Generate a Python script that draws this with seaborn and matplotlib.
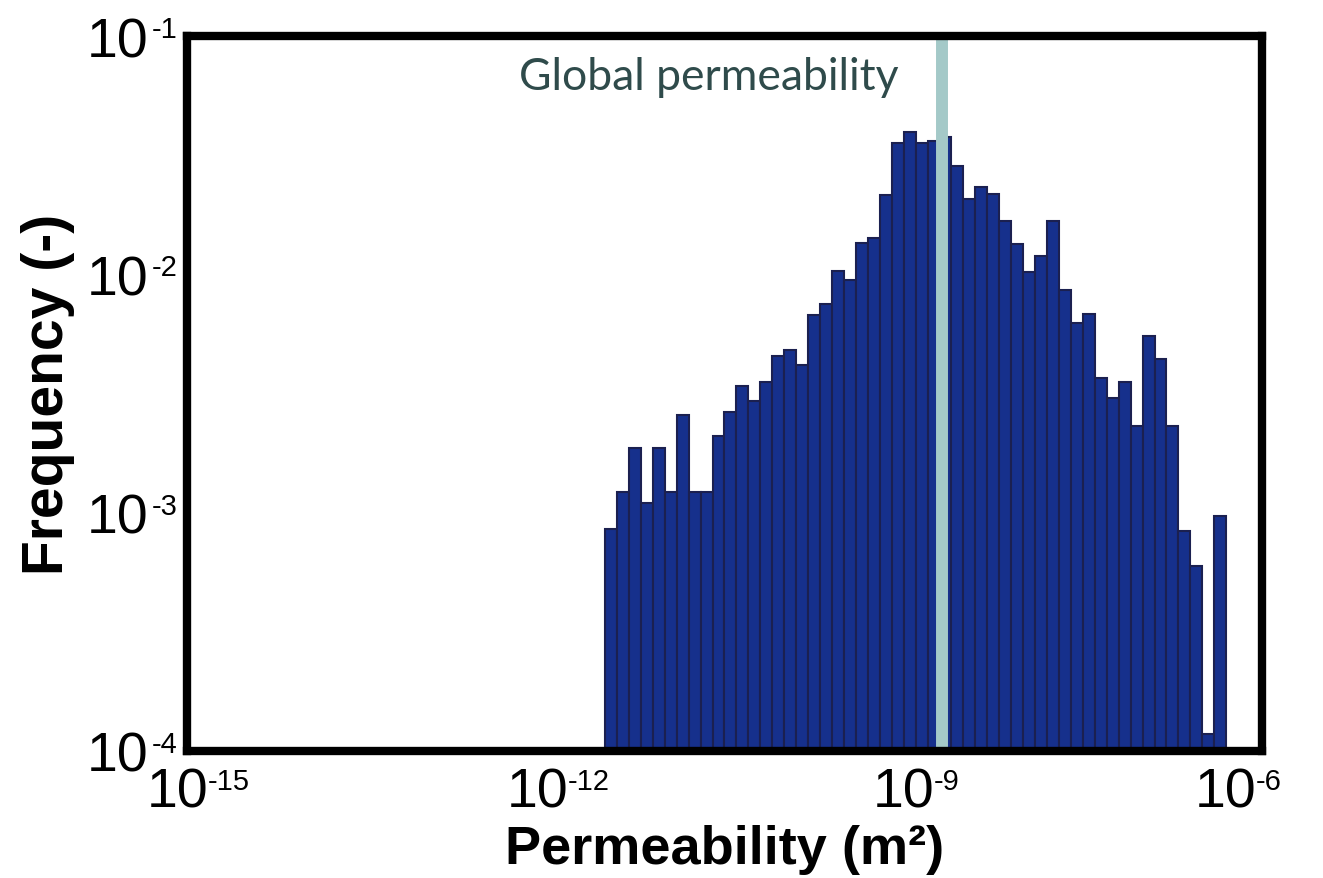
import numpy as np
import pandas as pd
import matplotlib
matplotlib.use("Agg")
import matplotlib.pyplot as plt
from matplotlib.ticker import FixedLocator, FixedFormatter, NullLocator
from matplotlib.transforms import offset_copy
import seaborn as sns

# permeability histogram, 0.1 decade bins starting at 10^-11.5 m2
bin_start = -11.5
bin_width = 0.1
freq = [8.55e-4, 1.225e-3, 1.87e-3, 1.10e-3, 1.87e-3, 1.225e-3, 2.58e-3, 1.225e-3,
        1.225e-3, 2.10e-3, 2.65e-3, 3.40e-3, 2.95e-3, 3.55e-3, 4.53e-3, 4.82e-3,
        4.18e-3, 6.76e-3, 7.52e-3, 1.03e-2, 9.48e-3, 1.36e-2, 1.42e-2, 2.16e-2,
        3.56e-2, 3.94e-2, 3.56e-2, 3.64e-2, 3.78e-2, 2.86e-2, 2.07e-2, 2.32e-2,
        2.17e-2, 1.68e-2, 1.34e-2, 1.02e-2, 1.19e-2, 1.68e-2, 8.63e-3, 6.25e-3,
        6.82e-3, 3.66e-3, 3.03e-3, 3.52e-3, 2.32e-3, 5.50e-3, 4.42e-3, 2.32e-3,
        8.39e-4, 5.96e-4, 1.18e-4, 9.70e-4]
global_k = 2.1e-9
x_exp = [-15, -12, -9, -6]
y_exp = [-4, -3, -2, -1]

# bin edges in log10 units (seaborn bins in log space when log_scale is on)
edges = [bin_start + bin_width * i for i in range(len(freq) + 1)]
centers = [10 ** (e + bin_width / 2) for e in edges[:-1]]
df = pd.DataFrame({"k": centers, "f": freq})
x_ticks = [10.0 ** e for e in x_exp]
y_ticks = [10.0 ** e for e in y_exp]

sns.set_theme(style="white")
plt.rcParams["font.family"] = ["Liberation Sans", "DejaVu Sans"]
plt.rcParams["text.color"] = "black"
plt.rcParams["axes.labelcolor"] = "black"

fig = plt.figure(figsize=(13.23, 8.79), dpi=100)
ax = fig.add_axes([0.1413, 0.1445, 0.8126, 0.8134])

sns.histplot(data=df, x="k", weights="f", bins=edges, log_scale=(True, False), ax=ax,
             color="#16308c", edgecolor="#1b2050", linewidth=1.5, alpha=1)
ax.set_yscale("log")

ax.axvline(global_k, color="#a4c9c8", lw=8.6, zorder=3)
ax.annotate("Global permeability", xy=(global_k, 1), xycoords=("data", "axes fraction"),
            xytext=(-44, -40), textcoords="offset pixels", ha="right", va="center",
            fontsize=32, color="#2f4b4b", family=["Lato", "DejaVu Sans"])

ax.set_xlim(1e-15, 1e-6)
ax.set_ylim(1e-4, 1e-1)
ax.xaxis.set_major_locator(FixedLocator(x_ticks))
ax.yaxis.set_major_locator(FixedLocator(y_ticks))
ax.xaxis.set_minor_locator(NullLocator())
ax.yaxis.set_minor_locator(NullLocator())
ax.xaxis.set_major_formatter(FixedFormatter(["10"] * len(x_ticks)))
ax.yaxis.set_major_formatter(FixedFormatter(["10"] * len(y_ticks)))
ax.tick_params(length=0, labelsize=40, colors="black")
ax.tick_params(axis="x", pad=11)
ax.tick_params(axis="y", pad=28)

# x labels sit a little left of their ticks in the original, the last one a lot
x_shift = [-9, -8, 0, -36]
for lab, dx in zip(ax.get_xticklabels(), x_shift):
    lab.set_transform(offset_copy(lab.get_transform(), fig=fig, x=dx, units="dots"))

# exponents as small raised text next to each "10"
for t, e, dx in zip(x_ticks, x_exp, x_shift):
    ax.annotate(str(e), xy=(t, 0), xycoords=("data", "axes fraction"),
                xytext=(30 + dx, -16), textcoords="offset pixels", ha="left", va="top",
                fontsize=21, annotation_clip=False)
for t, e in zip(y_ticks, y_exp):
    ax.annotate(str(e), xy=(0, t), xycoords=("axes fraction", "data"),
                xytext=(-35, 21), textcoords="offset pixels", ha="left", va="top",
                fontsize=21, annotation_clip=False)

ax.set_xlabel("Permeability (m²)", fontsize=39, fontweight="bold", labelpad=4)
ax.set_ylabel("Frequency (-)", fontsize=41, fontweight="bold", labelpad=8)

for s in ax.spines.values():
    s.set_linewidth(6)
    s.set_color("black")
    s.set_zorder(5)
ax.grid(False)

fig.savefig("out.png", dpi=100)
